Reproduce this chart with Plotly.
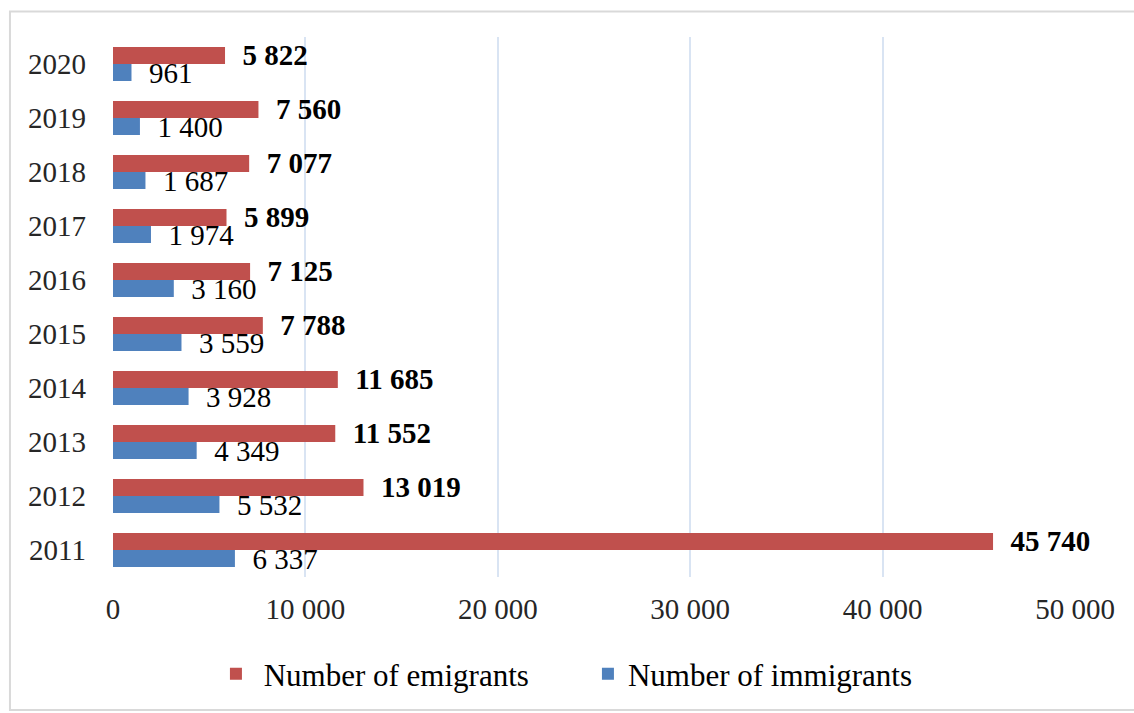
import plotly.graph_objects as go

years = ["2011", "2012", "2013", "2014", "2015", "2016", "2017", "2018", "2019", "2020"]
emigrants = [45740, 13019, 11552, 11685, 7788, 7125, 5899, 7077, 7560, 5822]
immigrants = [6337, 5532, 4349, 3928, 3559, 3160, 1974, 1687, 1400, 961]
x_ticks = [0, 10000, 20000, 30000, 40000, 50000]

FONT = "Liberation Serif"
RED = "#C0504D"
BLUE = "#4F81BD"
SIZE = 29

fig = go.Figure()
fig.add_trace(go.Bar(
    y=years, x=immigrants, orientation="h", name="Number of immigrants",
    marker=dict(color=BLUE, line=dict(width=0)),
    text=immigrants, texttemplate="\u00a0\u00a0%{x:,}", textposition="outside",
    constraintext="none", cliponaxis=False,
    textfont=dict(family=FONT, size=SIZE, color="#000000"),
))
fig.add_trace(go.Bar(
    y=years, x=emigrants, orientation="h", name="\u00a0Number of emigrants",
    marker=dict(color=RED, line=dict(width=0)),
    text=emigrants, texttemplate="\u00a0\u00a0<b>%{x:,}</b>", textposition="outside",
    constraintext="none", cliponaxis=False,
    textfont=dict(family=FONT, size=SIZE, color="#000000"),
))

fig.update_layout(
    width=1134, height=713,
    margin=dict(l=113, r=59, t=37, b=128),
    barmode="group", bargap=0.37, bargroupgap=0,
    separators=". ",
    paper_bgcolor="white", plot_bgcolor="white",
    font=dict(family=FONT, size=SIZE, color="#262626"),
    showlegend=True,
    legend=dict(
        orientation="h", traceorder="reversed",
        x=0.107, xanchor="left", y=-0.18, yanchor="middle",
        font=dict(family=FONT, size=31, color="#000000"),
        itemwidth=30, entrywidth=327, entrywidthmode="pixels",
    ),
    xaxis=dict(
        range=[0, 50000], tickvals=x_ticks, tickformat=",",
        showgrid=True, gridcolor="#D9E4F3", gridwidth=1.5,
        zeroline=False, showline=False, ticks="",
        ticklabelstandoff=12,
        tickfont=dict(family=FONT, size=SIZE, color="#262626"),
    ),
    yaxis=dict(
        type="category", categoryorder="array", categoryarray=years,
        showgrid=False, zeroline=False, showline=False, ticks="",
        ticklabelstandoff=26,
        tickfont=dict(family=FONT, size=SIZE, color="#262626"),
    ),
    shapes=[dict(
        type="rect", xref="paper", yref="paper",
        x0=-0.1071, x1=1.0676, y0=-0.2464, y1=1.0474,
        line=dict(color="#D9D9D9", width=2), fillcolor="rgba(0,0,0,0)",
        layer="below",
    )],
)

fig.write_html("out.html")
